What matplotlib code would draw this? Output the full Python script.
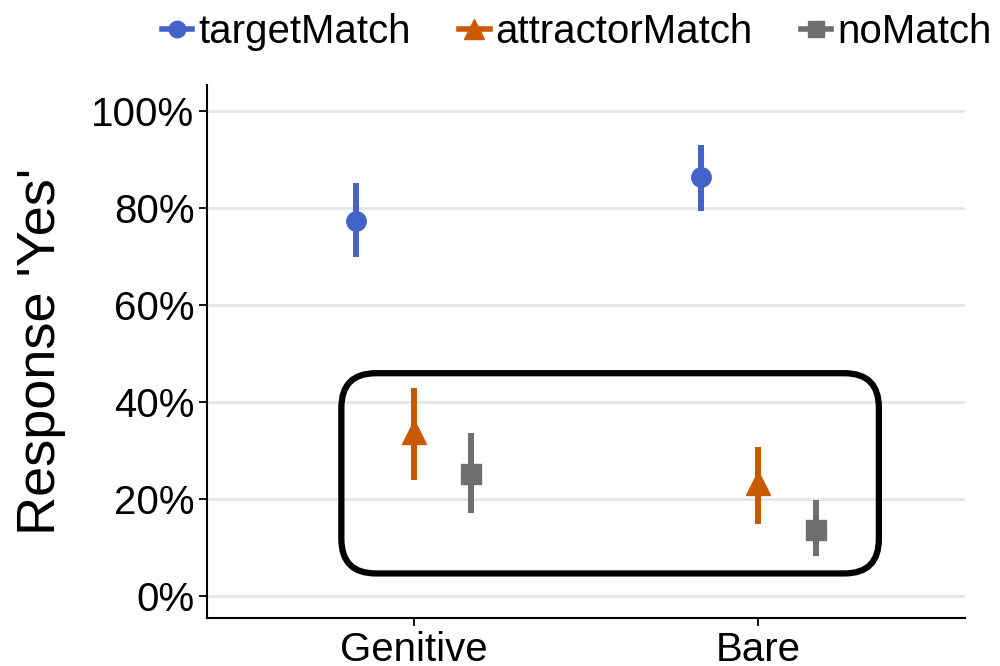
import numpy as np
import matplotlib.pyplot as plt
from matplotlib.lines import Line2D
from matplotlib.patches import FancyBboxPatch

plt.rcParams['font.family'] = ['Liberation Sans', 'DejaVu Sans']

conditions = ['Genitive', 'Bare']
groups = ['targetMatch', 'attractorMatch', 'noMatch']
means = {
    'targetMatch':    [77.5, 86.5],
    'attractorMatch': [33.8, 23.3],
    'noMatch':        [25.2, 13.6],
}
lower = {
    'targetMatch':    [70.0, 79.5],
    'attractorMatch': [24.0, 15.0],
    'noMatch':        [17.2, 8.2],
}
upper = {
    'targetMatch':    [85.2, 93.0],
    'attractorMatch': [42.9, 30.7],
    'noMatch':        [33.6, 19.8],
}
colors = {'targetMatch': '#4363C8', 'attractorMatch': '#C95A00', 'noMatch': '#6E6E6E'}
markers = {'targetMatch': 'o', 'attractorMatch': '^', 'noMatch': 's'}
msizes = {'targetMatch': 14, 'attractorMatch': 17, 'noMatch': 14}
offsets = {'targetMatch': -1/6, 'attractorMatch': 0.0, 'noMatch': 1/6}

# highlight box (data units)
box_x0, box_x1 = 0.79, 2.35
box_y0, box_y1 = 4.7, 46.0

fig = plt.figure(figsize=(10, 6.66), dpi=100)
ax = fig.add_axes([0.207, 0.072, 0.758, 0.800])

x = np.arange(1, len(conditions) + 1)
for g in groups:
    xs = x + offsets[g]
    ax.vlines(xs, lower[g], upper[g], color=colors[g], lw=4.3, zorder=3)
    ax.plot(xs, means[g], linestyle='none', marker=markers[g], ms=msizes[g],
            color=colors[g], mec=colors[g], zorder=4)

ax.set_xlim(0.4, 2.6)
ax.set_ylim(-4.5, 105.4)
yt = np.arange(0, 101, 20)
ax.set_yticks(yt)
ax.set_yticklabels([f'{v}%' for v in yt])
ax.set_xticks(x)
ax.set_xticklabels(conditions)
ax.tick_params(labelsize=29, colors='black', width=1.3, length=6, pad=3)
ax.grid(axis='y', color='#E6E6E6', lw=2, zorder=0)
ax.set_axisbelow(True)
for s in ['top', 'right']:
    ax.spines[s].set_visible(False)
for s in ['left', 'bottom']:
    ax.spines[s].set_linewidth(1.5)
ax.set_ylabel("Response 'Yes'", fontsize=39, labelpad=18)

box = FancyBboxPatch((box_x0, box_y0), box_x1 - box_x0, box_y1 - box_y0,
                     boxstyle='round,pad=0,rounding_size=0.1', mutation_aspect=71,
                     fill=False, ec='black', lw=4.5, zorder=5, clip_on=False)
ax.add_patch(box)

handles = [Line2D([], [], color=colors[g], marker=markers[g], ms=msizes[g] * 0.85,
                  lw=4) for g in groups]
fig.legend(handles, groups, loc='upper center', bbox_to_anchor=(0.577, 1.035),
           ncol=3, frameon=False, fontsize=29, handlelength=0.75,
           handletextpad=0.15, columnspacing=1.2)

fig.savefig('out.png', dpi=100)
